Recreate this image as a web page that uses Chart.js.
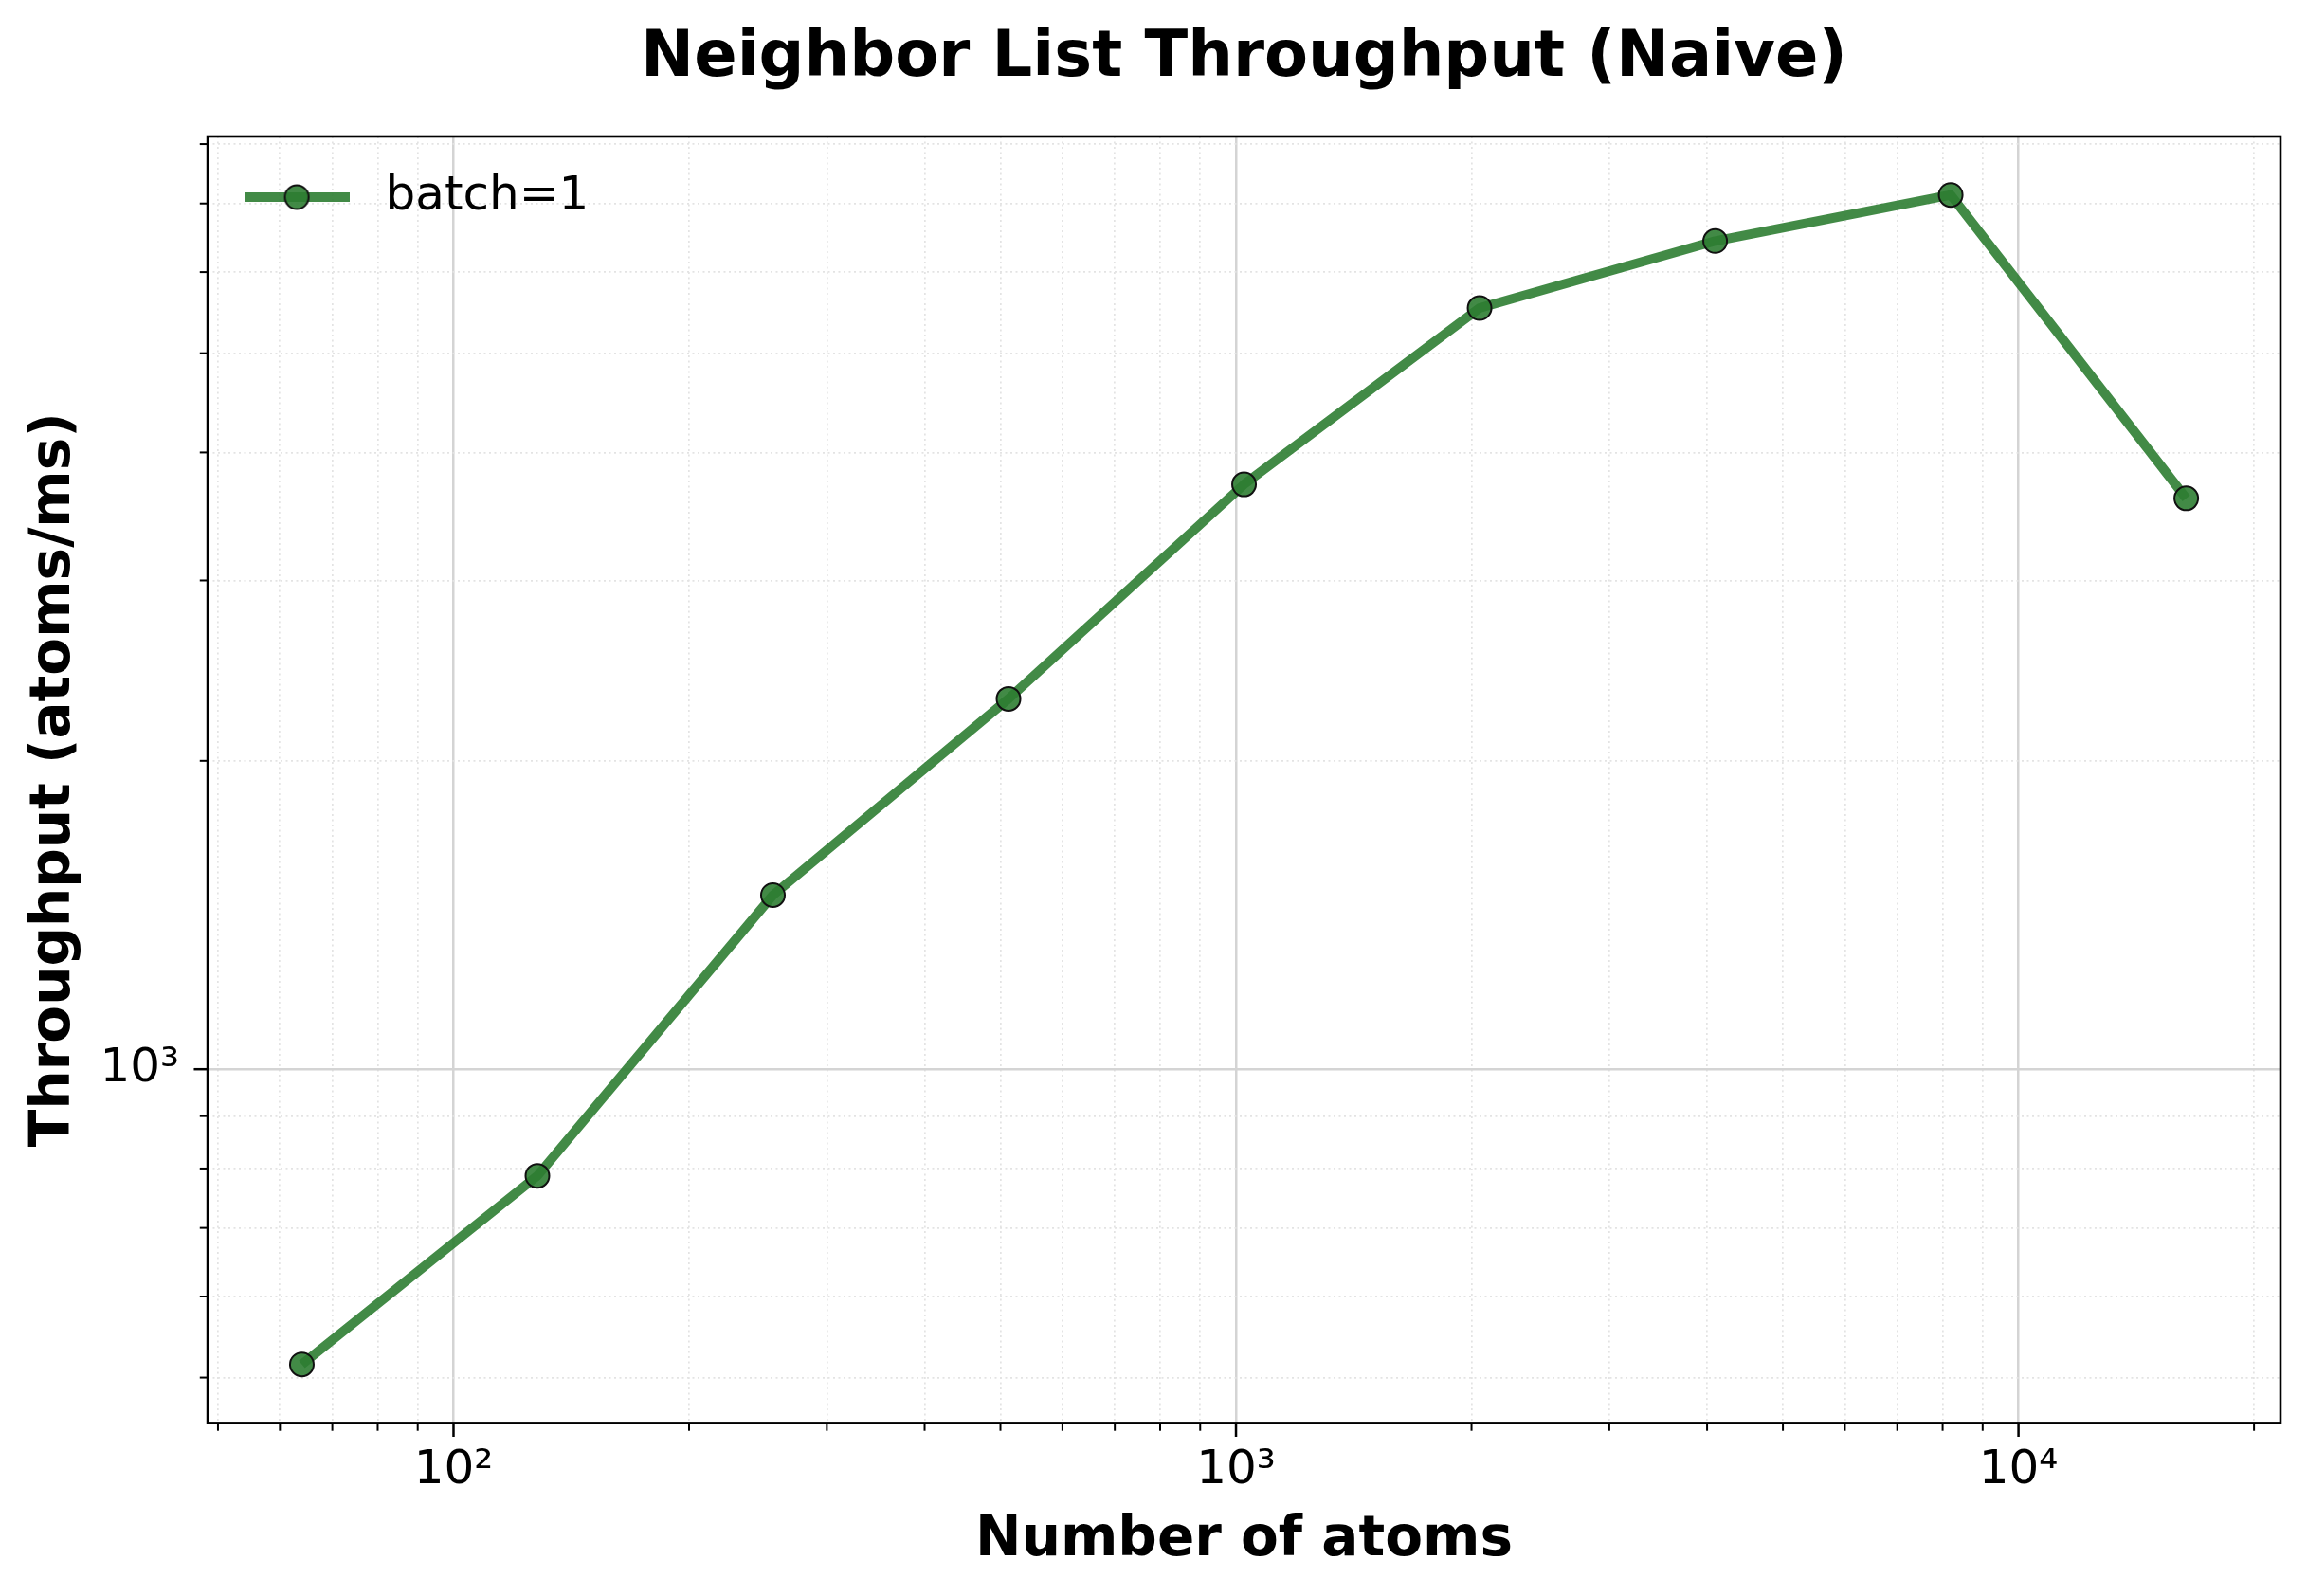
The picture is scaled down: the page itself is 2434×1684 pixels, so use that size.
<!DOCTYPE html>
<html>
<head>
<meta charset="utf-8">
<script src="https://cdn.jsdelivr.net/npm/chart.js@4"></script>
<style>
  html, body { margin: 0; padding: 0; background: #fff; overflow: hidden; }
  canvas { display: block; }
</style>
</head>
<body>
<canvas id="throughputChart" width="2434" height="1684"></canvas>
<script>
// Data
const atomCounts = [64, 128, 256, 512, 1024, 2048, 4096, 8192, 16384];
const throughput = [515, 787, 1479, 2299, 3723, 5534, 6434, 7136, 3608];

// Axis ticks
const xMajorTicks = [100, 1000, 10000];
const xTickLabels = ['10²', '10³', '10⁴'];
const yMajorTicks = [1000];
const yTickLabels = ['10³'];
const minorSteps = [2, 3, 4, 5, 6, 7, 8, 9];
const xDecades = [10, 100, 1000, 10000];
const yDecades = [100, 1000];

const chartTitle = 'Neighbor List Throughput (Naive)';
const seriesLabel = 'batch=1';
const lineColor = 'rgba(46, 125, 50, 0.9)';

Chart.defaults.font.family = '"DejaVu Sans", sans-serif';
Chart.defaults.color = '#000';

// 5% margin in log space, like matplotlib autoscale
function logLimits(values) {
  const lo = Math.log10(Math.min(...values));
  const hi = Math.log10(Math.max(...values));
  const pad = (hi - lo) * 0.05;
  return [Math.pow(10, lo - pad), Math.pow(10, hi + pad)];
}

function buildTicks(majors, decades, min, max) {
  const ticks = majors.filter(v => v >= min && v <= max).map(v => ({ value: v, major: true }));
  decades.forEach(d => {
    minorSteps.forEach(m => {
      const v = d * m;
      if (v >= min && v <= max) ticks.push({ value: v, major: false });
    });
  });
  return ticks.sort((a, b) => a.value - b.value);
}

const [xMin, xMax] = logLimits(atomCounts);
const [yMin, yMax] = logLimits(throughput);

const isMajor = (c) => c.tick && c.tick.major;

// legend icon: line with the marker in the middle
const legendIcon = document.createElement('canvas');
legendIcon.width = 111;
legendIcon.height = 30;
(function () {
  const g = legendIcon.getContext('2d');
  g.strokeStyle = lineColor;
  g.lineWidth = 10;
  g.beginPath();
  g.moveTo(0, 15);
  g.lineTo(111, 15);
  g.stroke();
  g.beginPath();
  g.arc(55.5, 15, 12.5, 0, Math.PI * 2);
  g.fillStyle = lineColor;
  g.fill();
  g.lineWidth = 2;
  g.strokeStyle = '#111';
  g.stroke();
})();

// title centred over the axes, frame and tick marks
const framePlugin = {
  id: 'frame',
  afterDraw(chart) {
    const { ctx, chartArea } = chart;
    ctx.save();
    ctx.fillStyle = '#000';
    ctx.font = 'bold 67px "DejaVu Sans"';
    ctx.textAlign = 'center';
    ctx.textBaseline = 'middle';
    ctx.fillText(chartTitle, (chartArea.left + chartArea.right) / 2, 63);

    ctx.strokeStyle = '#000';
    ctx.lineWidth = 2.6;
    ctx.strokeRect(chartArea.left, chartArea.top, chartArea.right - chartArea.left, chartArea.bottom - chartArea.top);

    const xs = chart.scales.x;
    xs.ticks.forEach(t => {
      const px = xs.getPixelForValue(t.value);
      ctx.lineWidth = t.major ? 2.5 : 2;
      ctx.beginPath();
      ctx.moveTo(px, chartArea.bottom);
      ctx.lineTo(px, chartArea.bottom + (t.major ? 14.6 : 8.3));
      ctx.stroke();
    });
    const ys = chart.scales.y;
    ys.ticks.forEach(t => {
      const py = ys.getPixelForValue(t.value);
      ctx.lineWidth = t.major ? 2.5 : 2;
      ctx.beginPath();
      ctx.moveTo(chartArea.left, py);
      ctx.lineTo(chartArea.left - (t.major ? 14.6 : 8.3), py);
      ctx.stroke();
    });
    ctx.restore();
  }
};

const ctx = document.getElementById('throughputChart').getContext('2d');

const throughputChart = new Chart(ctx, {
  type: 'line',
  data: {
    datasets: [{
      label: seriesLabel,
      data: atomCounts.map((n, i) => ({ x: n, y: throughput[i] })),
      borderColor: lineColor,
      backgroundColor: lineColor,
      borderWidth: 10,
      borderJoinStyle: 'round',
      fill: false,
      tension: 0,
      pointRadius: 12.5,
      pointHoverRadius: 12.5,
      pointBackgroundColor: lineColor,
      pointBorderColor: '#111',
      pointBorderWidth: 2
    }]
  },
  options: {
    responsive: false,
    devicePixelRatio: 1,
    animation: false,
    events: [],
    layout: {
      padding: { top: 144, right: 28, bottom: 0, left: 23 }
    },
    plugins: {
      title: { display: false },
      tooltip: { enabled: false },
      legend: {
        position: 'chartArea',
        align: 'start',
        // empty title only pushes the entry down into the plot corner
        title: { display: true, text: '', padding: { top: 144, bottom: 0 }, font: { size: 11.25 } },
        labels: {
          usePointStyle: true,
          pointStyle: legendIcon,
          pointStyleWidth: 137,
          padding: 25.5,
          color: '#000',
          font: { size: 50 }
        }
      }
    },
    scales: {
      x: {
        type: 'logarithmic',
        position: 'bottom',
        min: xMin,
        max: xMax,
        bounds: 'data',
        afterBuildTicks: (scale) => {
          scale.ticks = buildTicks(xMajorTicks, xDecades, xMin, xMax);
        },
        ticks: {
          autoSkip: false,
          maxRotation: 0,
          minRotation: 0,
          padding: 0,
          color: '#000',
          font: { size: 50 },
          callback: (value) => {
            const i = xMajorTicks.indexOf(value);
            return i >= 0 ? xTickLabels[i] : '';
          }
        },
        grid: {
          color: (c) => isMajor(c) ? '#d4d4d4' : '#e3e3e3',
          lineWidth: (c) => isMajor(c) ? 2.5 : 1.7,
          drawTicks: true,
          tickLength: 21,
          tickColor: 'rgba(0,0,0,0)'
        },
        border: {
          display: false,
          dash: (c) => isMajor(c) ? [] : [2, 3.5]
        },
        title: {
          display: true,
          text: 'Number of atoms',
          color: '#000',
          font: { size: 58, weight: 'bold' },
          padding: { top: 8.5, bottom: 23.5 }
        }
      },
      y: {
        type: 'logarithmic',
        position: 'left',
        min: yMin,
        max: yMax,
        bounds: 'data',
        afterBuildTicks: (scale) => {
          scale.ticks = buildTicks(yMajorTicks, yDecades, yMin, yMax);
        },
        ticks: {
          autoSkip: false,
          padding: 0,
          color: '#000',
          font: { size: 50 },
          callback: (value) => {
            const i = yMajorTicks.indexOf(value);
            return i >= 0 ? yTickLabels[i] : '';
          }
        },
        grid: {
          color: (c) => isMajor(c) ? '#d4d4d4' : '#e3e3e3',
          lineWidth: (c) => isMajor(c) ? 2.5 : 1.7,
          drawTicks: true,
          tickLength: 30,
          tickColor: 'rgba(0,0,0,0)'
        },
        border: {
          display: false,
          dash: (c) => isMajor(c) ? [] : [2, 3.5]
        },
        title: {
          display: true,
          text: 'Throughput (atoms/ms)',
          color: '#000',
          font: { size: 58, weight: 'bold' },
          padding: { top: 0, bottom: 12.8 }
        }
      }
    }
  },
  plugins: [framePlugin]
});
</script>
</body>
</html>
